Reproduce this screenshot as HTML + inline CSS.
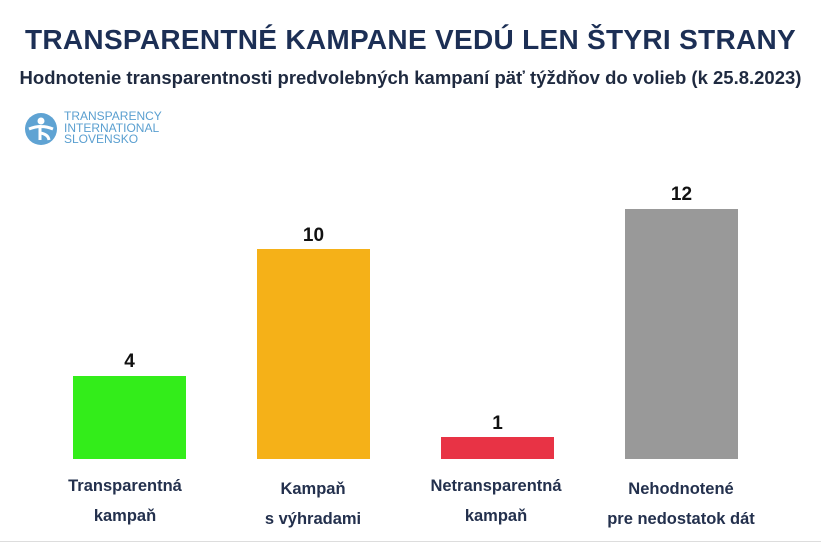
<!DOCTYPE html>
<html><head><meta charset="utf-8"><style>
body{margin:0;width:821px;height:557px;background:#fff;position:relative;overflow:hidden;font-family:"Liberation Sans","DejaVu Sans",sans-serif}
.a{position:absolute}
.t{left:0;width:821px;text-align:center;font-weight:bold;color:#1c2f55;white-space:nowrap}
.bar{position:absolute}
.v{position:absolute;width:113px;text-align:center;font-weight:bold;font-size:19px;color:#111}
.l{position:absolute;width:200px;text-align:center;font-weight:bold;font-size:16.5px;color:#23304d;line-height:30px}
</style></head><body>
<div class="a t" style="top:24px;font-size:28px;letter-spacing:0.3px">TRANSPARENTNÉ KAMPANE VEDÚ LEN ŠTYRI STRANY</div>
<div class="a t" style="top:67px;font-size:18.5px;color:#1f2a40">Hodnotenie transparentnosti predvolebných kampaní päť týždňov do volieb (k 25.8.2023)</div>
<svg class="a" style="left:24px;top:112px" width="34" height="34" viewBox="0 0 34 34"><circle cx="17" cy="17" r="16" fill="#5fa3d3"/><circle cx="17" cy="9" r="3.5" fill="#fff"/><path d="M5 17 Q17 12 29 17 M16 13 L16 28 M16 21 Q24 22 25 28" stroke="#fff" stroke-width="3" fill="none"/></svg>
<div class="a" style="left:64px;top:111px;font-size:12px;line-height:11.5px;color:#5a9fd0">TRANSPARENCY<br>INTERNATIONAL<br>SLOVENSKO</div>
<div class="bar" style="left:73px;top:376px;width:113px;height:83px;background:#33ed1a"></div>
<div class="bar" style="left:257px;top:249px;width:113px;height:210px;background:#f5b118"></div>
<div class="bar" style="left:441px;top:437px;width:113px;height:22px;background:#e83345"></div>
<div class="bar" style="left:625px;top:209px;width:113px;height:250px;background:#999"></div>
<div class="v" style="left:73px;top:351px">4</div>
<div class="v" style="left:257px;top:225px">10</div>
<div class="v" style="left:441px;top:413px">1</div>
<div class="v" style="left:625px;top:184px">12</div>
<div class="l" style="left:25px;top:471px">Transparentná<br>kampaň</div>
<div class="l" style="left:213px;top:474px">Kampaň<br>s výhradami</div>
<div class="l" style="left:396px;top:471px">Netransparentná<br>kampaň</div>
<div class="l" style="left:581px;top:474px">Nehodnotené<br>pre nedostatok dát</div>
<div class="a" style="left:0;top:541px;width:821px;height:1px;background:#ddd"></div>
</body></html>
